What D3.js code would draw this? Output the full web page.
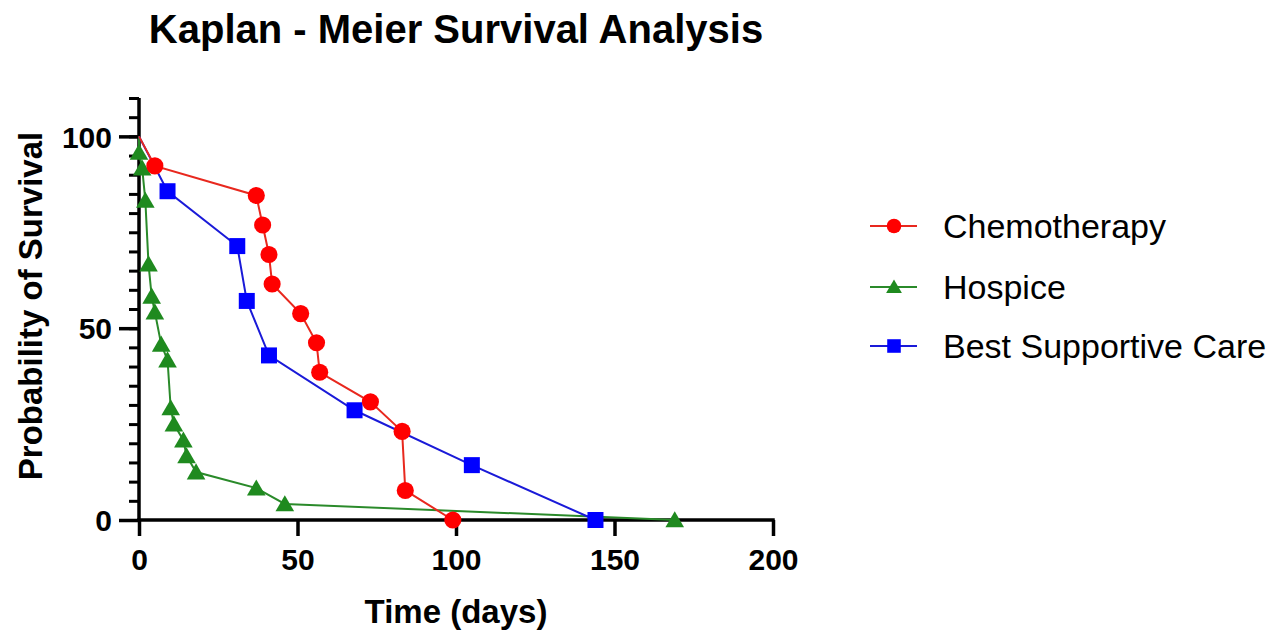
<!DOCTYPE html>
<html>
<head>
<meta charset="utf-8">
<script src="https://cdn.jsdelivr.net/npm/d3@7"></script>
<style>
  html, body { margin: 0; padding: 0; background: #fff; }
  svg { display: block; }
</style>
</head>
<body>
<svg id="chart" width="1280" height="633"></svg>
<script>
// ---- data ----
const seriesNames = ["Chemotherapy", "Hospice", "Best Supportive Care"];

const chemoDays = [0, 5, 37, 39, 41, 42, 51, 56, 57, 73, 83, 84, 99];
const chemoSurv = [100, 92.3, 84.6, 76.9, 69.2, 61.5, 53.8, 46.2, 38.5, 30.8, 23.1, 7.7, 0];

const hospiceDays = [0, 0, 1, 2, 3, 4, 5, 7, 9, 10, 11, 14, 15, 18, 37, 46, 169];
const hospiceSurv = [100, 95.8, 91.7, 83.3, 66.7, 58.3, 54.2, 45.8, 41.7, 29.2, 25, 20.8, 16.7, 12.5, 8.3, 4.2, 0];

const bscDays = [0, 9, 31, 34, 41, 68, 105, 144];
const bscSurv = [100, 85.7, 71.4, 57.1, 42.9, 28.6, 14.3, 0];

const xTicks = [0, 50, 100, 150, 200];
const yTicks = [0, 50, 100];
const yMinorTicks = d3.range(0, 111, 5);

const titleText = "Kaplan - Meier Survival Analysis";
const xTitle = "Time (days)";
const yTitle = "Probability of Survival";

// ---- layout ----
const svg = d3.select("#chart");
const x = d3.scaleLinear().domain([0, 200]).range([139, 773]);
const y = d3.scaleLinear().domain([0, 110]).range([520, 98]);

const colors = { "Chemotherapy": "#ff0000", "Hospice": "#1f8a1f", "Best Supportive Care": "#0000ff" };
const lineColors = { "Chemotherapy": "#e8281e", "Hospice": "#2a8a2a", "Best Supportive Care": "#1a1ad8" };
const shapes = { "Chemotherapy": d3.symbolCircle, "Hospice": d3.symbolTriangle, "Best Supportive Care": d3.symbolSquare };
const sizes = { "Chemotherapy": 230, "Hospice": 150, "Best Supportive Care": 256 };

const series = [
  { name: "Hospice", days: hospiceDays, surv: hospiceSurv },
  { name: "Best Supportive Care", days: bscDays, surv: bscSurv },
  { name: "Chemotherapy", days: chemoDays, surv: chemoSurv }
];

const font = "'Liberation Sans', Arial, Helvetica, sans-serif";

// title
svg.append("text")
  .attr("x", 456).attr("y", 43)
  .attr("text-anchor", "middle")
  .attr("font-family", font).attr("font-weight", "bold").attr("font-size", 40)
  .attr("fill", "#000")
  .text(titleText);

// axes
const xAxis = d3.axisBottom(x).tickValues(xTicks).tickSize(16).tickPadding(12).tickFormat(d3.format("d"));
const gx = svg.append("g").attr("transform", `translate(0,${y(0)})`).call(xAxis);
gx.select(".domain").attr("stroke", "#000").attr("stroke-width", 3.5).attr("d", `M${x(0) - 1.75},0H${x(200) + 1.75}`);
gx.selectAll(".tick line").attr("stroke", "#000").attr("stroke-width", 3.5);
gx.selectAll(".tick text").attr("font-family", font).attr("font-weight", "bold").attr("font-size", 30).attr("fill", "#000").attr("dy", "0.72em");

const yAxisMinor = d3.axisLeft(y).tickValues(yMinorTicks).tickSize(10).tickFormat("");
const gyMinor = svg.append("g").attr("transform", `translate(${x(0)},0)`).call(yAxisMinor);
gyMinor.select(".domain").remove();
gyMinor.selectAll(".tick line").attr("stroke", "#000").attr("stroke-width", 3);

const yAxis = d3.axisLeft(y).tickValues(yTicks).tickSize(20).tickPadding(7).tickFormat(d3.format("d"));
const gy = svg.append("g").attr("transform", `translate(${x(0)},0)`).call(yAxis);
gy.select(".domain").attr("stroke", "#000").attr("stroke-width", 3.5).attr("d", `M0,${y(110)}V${y(0) + 1.75}`);
gy.selectAll(".tick line").attr("stroke", "#000").attr("stroke-width", 3.5);
gy.selectAll(".tick text").attr("font-family", font).attr("font-weight", "bold").attr("font-size", 30).attr("fill", "#000").attr("dy", "0.36em");

// axis titles
svg.append("text")
  .attr("x", 456).attr("y", 623)
  .attr("text-anchor", "middle")
  .attr("font-family", font).attr("font-weight", "bold").attr("font-size", 33)
  .attr("fill", "#000").text(xTitle);

svg.append("text")
  .attr("transform", `translate(42,306) rotate(-90)`)
  .attr("text-anchor", "middle")
  .attr("font-family", font).attr("font-weight", "bold").attr("font-size", 33)
  .attr("fill", "#000").text(yTitle);

// series
const line = d3.line().x(d => x(d[0])).y(d => y(d[1]));
series.forEach(s => {
  const pts = s.days.map((d, i) => [d, s.surv[i]]);
  svg.append("path")
    .datum(pts)
    .attr("fill", "none")
    .attr("stroke", lineColors[s.name])
    .attr("stroke-width", 2)
    .attr("d", line);
  svg.append("g").selectAll("path")
    .data(pts.slice(1))
    .join("path")
    .attr("transform", d => `translate(${x(d[0])},${y(d[1]) + (s.name === "Hospice" ? 2 : 0)})`)
    .attr("d", d3.symbol().type(shapes[s.name]).size(sizes[s.name]))
    .attr("fill", colors[s.name]);
});

// legend
const legendRows = [226, 287, 346];
seriesNames.forEach((name, i) => {
  const g = svg.append("g").attr("transform", `translate(0,${legendRows[i]})`);
  g.append("line").attr("x1", 870).attr("x2", 917).attr("y1", 0).attr("y2", 0)
    .attr("stroke", lineColors[name]).attr("stroke-width", 2);
  g.append("path")
    .attr("transform", `translate(894,${name === "Hospice" ? 1.5 : 0})`)
    .attr("d", d3.symbol().type(shapes[name]).size(sizes[name] * 0.72))
    .attr("fill", colors[name]);
  g.append("text")
    .attr("x", 943).attr("y", 0).attr("dy", "0.36em")
    .attr("font-family", font).attr("font-size", 34).attr("fill", "#000")
    .text(name);
});
</script>
</body>
</html>
